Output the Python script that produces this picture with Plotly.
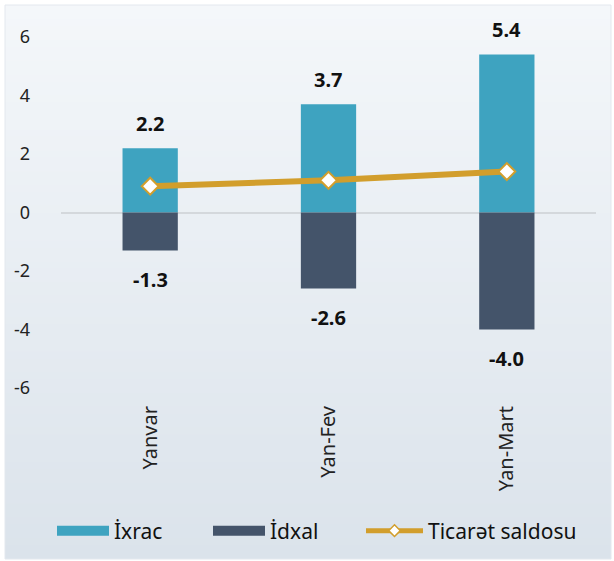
import plotly.graph_objects as go

categories = ["Yanvar", "Yan-Fev", "Yan-Mart"]
exports = [2.2, 3.7, 5.4]
imports = [-1.3, -2.6, -4.0]
balance = [0.9, 1.1, 1.4]
y_ticks = [-6, -4, -2, 0, 2, 4, 6]
y_tick_text = ["-6", "-4", "-2", "0", "2", "4", "6"]

W, H = 614, 561
L, R, T, B = 61, 18, 37, 173
pw, ph = W - L - R, H - T - B

def px_x(p):
    return (p - L) / pw

def px_y(p):
    return (H - B - p) / ph

FONT = "Noto Sans"
C_EXP, C_IMP, C_BAL = "#3ea3c0", "#44546a", "#d29e2c"

fig = go.Figure()
fig.add_trace(go.Bar(x=categories, y=exports, name="İxrac", marker_color=C_EXP,
                     marker_line_width=0, width=0.31, showlegend=False))
fig.add_trace(go.Bar(x=categories, y=imports, name="İdxal", marker_color=C_IMP,
                     marker_line_width=0, width=0.31, showlegend=False))
fig.add_trace(go.Scatter(x=categories, y=balance, name="Ticarət saldosu", mode="lines+markers",
                         line=dict(color=C_BAL, width=6), showlegend=False,
                         marker=dict(symbol="diamond", size=13, color="white",
                                     line=dict(color=C_BAL, width=2))))
# legend entries (one legend each, to place them like the original)
fig.add_trace(go.Scatter(x=[None], y=[None], name="İxrac", mode="lines", legend="legend",
                         line=dict(color=C_EXP, width=14)))
fig.add_trace(go.Scatter(x=[None], y=[None], name="İdxal", mode="lines", legend="legend2",
                         line=dict(color=C_IMP, width=14)))
fig.add_trace(go.Scatter(x=[None], y=[None], name="Ticarət saldosu", mode="lines+markers",
                         legend="legend3",
                         line=dict(color=C_BAL, width=5),
                         marker=dict(symbol="diamond", size=9, color="white",
                                     line=dict(color=C_BAL, width=1.5))))

for c, v in zip(categories, exports):
    fig.add_annotation(x=c, y=v, text=f"<b>{v:.1f}</b>", showarrow=False, yshift=25,
                       font=dict(family=FONT, size=20, color="#111"))
for c, v in zip(categories, imports):
    fig.add_annotation(x=c, y=v, text=f"<b>{v:.1f}</b>", showarrow=False, yshift=-29,
                       font=dict(family=FONT, size=20, color="#111"))

# gradient panel background
shapes = []
y0p, y1p, x0p, x1p = 5, 559, 5, 611
n = 80
top = (244, 247, 250)
bot = (219, 227, 235)
for i in range(n):
    a = y0p + (y1p - y0p) * i / n
    b = y0p + (y1p - y0p) * (i + 1) / n
    if i < n - 1:
        b += 1.5
    t = (i + 0.5) / n
    col = tuple(round(top[k] + (bot[k] - top[k]) * t) for k in range(3))
    shapes.append(dict(type="rect", xref="paper", yref="paper", layer="below",
                       x0=px_x(x0p), x1=px_x(x1p), y0=px_y(b), y1=px_y(a),
                       fillcolor="rgb(%d,%d,%d)" % col, line_width=0))
shapes.append(dict(type="rect", xref="paper", yref="paper", layer="below",
                   x0=px_x(x0p), x1=px_x(x1p), y0=px_y(y1p), y1=px_y(y0p),
                   fillcolor="rgba(0,0,0,0)", line=dict(color="#e3e8ee", width=1)))

def leg(xpx, iw):
    return dict(orientation="h", x=px_x(xpx), xanchor="left", y=px_y(531), yanchor="middle",
                font=dict(family=FONT, size=21, color="#111"), bgcolor="rgba(0,0,0,0)",
                itemwidth=iw, itemclick=False, itemdoubleclick=False)

fig.update_layout(
    width=W, height=H, autosize=False,
    margin=dict(l=L, r=R, t=T, b=B, pad=0, autoexpand=False),
    paper_bgcolor="white", plot_bgcolor="rgba(0,0,0,0)",
    barmode="relative",
    shapes=shapes,
    font=dict(family=FONT, size=18, color="#222"),
    showlegend=True,
    legend=leg(52, 52),
    legend2=leg(208, 52),
    legend3=leg(361, 57),
    xaxis=dict(range=[-0.5, 2.5], tickangle=-90, showgrid=False, showline=False,
               ticks="", tickfont=dict(family=FONT, size=20, color="#222"), ticklabelstandoff=13),
    yaxis=dict(range=[-6, 6], tickvals=y_ticks, ticktext=y_tick_text, showgrid=False,
               zeroline=True, zerolinecolor="#d4d8dc", zerolinewidth=2, showline=False,
               tickfont=dict(family=FONT, size=18, color="#222"), ticklabelstandoff=30),
)

fig.write_html("out.html", config={"displayModeBar": False},
               post_script="document.body.style.margin='0';")
